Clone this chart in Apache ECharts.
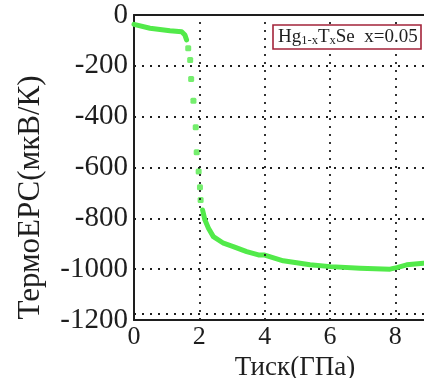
<!DOCTYPE html>
<html>
<head>
<meta charset="utf-8">
<title>ТермоЕРС</title>
<script src="https://cdn.jsdelivr.net/npm/echarts@6/dist/echarts.min.js"></script>
<style>
    html, body { margin: 0; padding: 0; background: #fff; }
    #chart { width: 424px; height: 378px; }
</style>
</head>
<body>
<div id="chart"></div>
<script>
// plateau before the drop (pressure in GPa, thermo-EMF in uV/K)
let plateauP = [0, 0.49, 1.10, 1.46, 1.56, 1.61];
let plateauS = [-37, -52, -62, -66, -79, -98];
// separate points of the sharp drop
let dropP = [1.66, 1.72, 1.75, 1.82, 1.89, 1.92, 1.98, 2.02, 2.04];
let dropS = [-131, -177, -252, -337, -442, -540, -616, -678, -728];
// tail after the drop
let tailP = [2.10, 2.17, 2.28, 2.43, 2.74, 3.04, 3.45, 3.81, 3.98, 4.57, 5.39, 6.02, 6.92, 7.84, 8.05, 8.35, 8.86];
let tailS = [-767, -806, -839, -872, -898, -911, -931, -944, -944, -967, -983, -990, -996, -1000, -994, -983, -977];

let xGridLines = [2, 4, 6, 8];
let yLowGridLine = -1175;

let green = '#52ea4a';
let ink = '#1e1e1e';
let serif = "'Liberation Serif', 'Times New Roman', serif";

function pairs(xs, ys) {
    let out = [];
    for (let i in xs) {
        out.push([xs[i], ys[i]]);
    }
    return out;
}

function plainNumber(v) {
    return String(v);
}

let dotted = {color: ink, width: 1.8, type: [2, 6]};

let markLineData = xGridLines.map(function (v) { return {xAxis: v}; });
markLineData.push({yAxis: yLowGridLine});

let myChart = echarts.init(document.getElementById('chart'));
let option = {
    animation: false,
    backgroundColor: '#fff',
    title: {
        text: '{a|Hg}{s|1-x}{a|T}{s|x}{a|Se  x=0.05}',
        left: 273,
        top: 21,
        padding: [3, 4, 2, 5],
        borderColor: '#a3233a',
        borderWidth: 1.6,
        backgroundColor: '#fff',
        textStyle: {
            fontWeight: 'normal',
            rich: {
                a: {fontFamily: serif, fontSize: 19, fontWeight: 'normal', color: ink, lineHeight: 23, verticalAlign: 'bottom'},
                s: {fontFamily: serif, fontSize: 12.5, fontWeight: 'normal', color: ink, lineHeight: 23, verticalAlign: 'bottom'}
            }
        }
    },
    grid: {left: 134, right: 0, top: 15, bottom: 58, outerBoundsMode: 'none'},
    xAxis: [{
        type: 'value',
        min: 0,
        max: 8.88,
        interval: 2,
        axisLine: {show: true, onZero: false, lineStyle: {color: ink, width: 2}},
        axisTick: {show: false},
        splitLine: {show: false},
        axisLabel: {fontFamily: serif, fontSize: 26, color: ink, margin: 4, showMaxLabel: false, formatter: plainNumber},
        name: 'Тиск(ГПа)',
        nameLocation: 'middle',
        nameGap: 23,
        nameTextStyle: {fontFamily: serif, fontSize: 27, color: ink, padding: [0, 0, 0, 32]}
    }, {
        type: 'value',
        position: 'top',
        min: 0,
        max: 8.88,
        axisLine: {show: true, lineStyle: {color: ink, width: 2}},
        axisTick: {show: false},
        axisLabel: {show: false},
        splitLine: {show: false}
    }],
    yAxis: {
        type: 'value',
        min: -1200,
        max: 0,
        interval: 200,
        axisLine: {show: true, onZero: false, lineStyle: {color: ink, width: 2}},
        axisTick: {show: false},
        splitLine: {show: true, lineStyle: dotted},
        axisLabel: {fontFamily: serif, fontSize: 29, color: ink, margin: 6, formatter: plainNumber},
        name: 'ТермоЕРС(мкВ/К)',
        nameLocation: 'middle',
        nameGap: 88,
        nameTextStyle: {fontFamily: serif, fontSize: 31, color: ink, padding: [0, 60, 0, 0]}
    },
    series: [{
        type: 'line',
        data: pairs(plateauP, plateauS),
        showSymbol: false,
        lineStyle: {color: green, width: 5, cap: 'round', join: 'round'},
        markLine: {
            silent: true,
            symbol: 'none',
            label: {show: false},
            lineStyle: dotted,
            data: markLineData
        }
    }, {
        type: 'scatter',
        data: pairs(dropP, dropS),
        symbol: 'roundRect',
        symbolSize: 6,
        itemStyle: {color: green}
    }, {
        type: 'line',
        data: pairs(tailP, tailS),
        showSymbol: false,
        lineStyle: {color: green, width: 5, cap: 'round', join: 'round'}
    }]
};
myChart.setOption(option);
</script>
</body>
</html>
